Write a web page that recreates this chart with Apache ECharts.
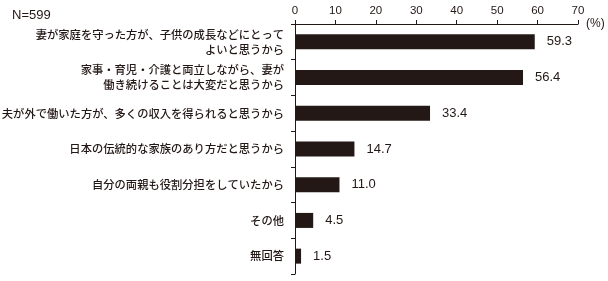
<!DOCTYPE html>
<html><head><meta charset="utf-8">
<script src="https://cdn.jsdelivr.net/npm/echarts@6/dist/echarts.min.js"></script>
<style>html,body{margin:0;padding:0;background:#fff}#c{width:608px;height:281px}</style>
</head><body><div id="c"></div>
<script>
var categories = [
  '妻が家庭を守った方が、子供の成長などにとって\nよいと思うから',
  '家事・育児・介護と両立しながら、妻が\n働き続けることは大変だと思うから',
  '夫が外で働いた方が、多くの収入を得られると思うから',
  '日本の伝統的な家族のあり方だと思うから',
  '自分の両親も役割分担をしていたから',
  'その他',
  '無回答'
];
var values = [59.3, 56.4, 33.4, 14.7, 11.0, 4.5, 1.5];
var xTicks = [0, 10, 20, 30, 40, 50, 60, 70];
var noteText = 'N=599';
var unitText = '(%)';

var ink = '#231815';
var font = '"Noto Sans CJK JP", "Noto Sans", sans-serif';
var numFont = '"Liberation Sans Narrow", "Liberation Sans", sans-serif';
var chart = echarts.init(document.getElementById('c'));
chart.setOption({
  animation: false,
  textStyle: {fontFamily: font, color: ink},
  grid: {left: 295, right: 30, top: 24, bottom: 7, containLabel: false, outerBoundsMode: 'none'},
  graphic: [{type: 'text', left: 12, top: 9, style: {text: noteText, font: '13px "Liberation Sans", sans-serif', fill: ink}}],
  xAxis: {
    type: 'value', position: 'top', min: xTicks[0], max: xTicks[xTicks.length-1], interval: 10,
    name: unitText, nameLocation: 'end', nameGap: 8,
    nameTextStyle: {color: ink, fontSize: 12, fontFamily: numFont, verticalAlign: 'middle'},
    axisLine: {show: true, lineStyle: {color: ink, width: 1}},
    axisTick: {show: true, inside: false, length: 4, lineStyle: {color: ink}},
    axisLabel: {color: ink, fontSize: 11.5, margin: 7, fontFamily: numFont},
    splitLine: {show: false}
  },
  yAxis: {
    type: 'category', data: categories, inverse: true,
    axisLine: {show: true, lineStyle: {color: ink, width: 1}},
    axisTick: {show: true, length: 4, lineStyle: {color: ink}},
    axisLabel: {color: ink, fontSize: 11.3, margin: 11, lineHeight: 15, align: 'right', fontFamily: font, fontWeight: 500}
  },
  series: [{
    type: 'bar', data: values, barWidth: '42%',
    itemStyle: {color: ink},
    label: {show: true, position: 'right', distance: 12, color: ink, fontSize: 13, fontFamily: numFont,
      formatter: function(p){ return p.value.toFixed(1); }}
  }]
});
</script></body></html>
